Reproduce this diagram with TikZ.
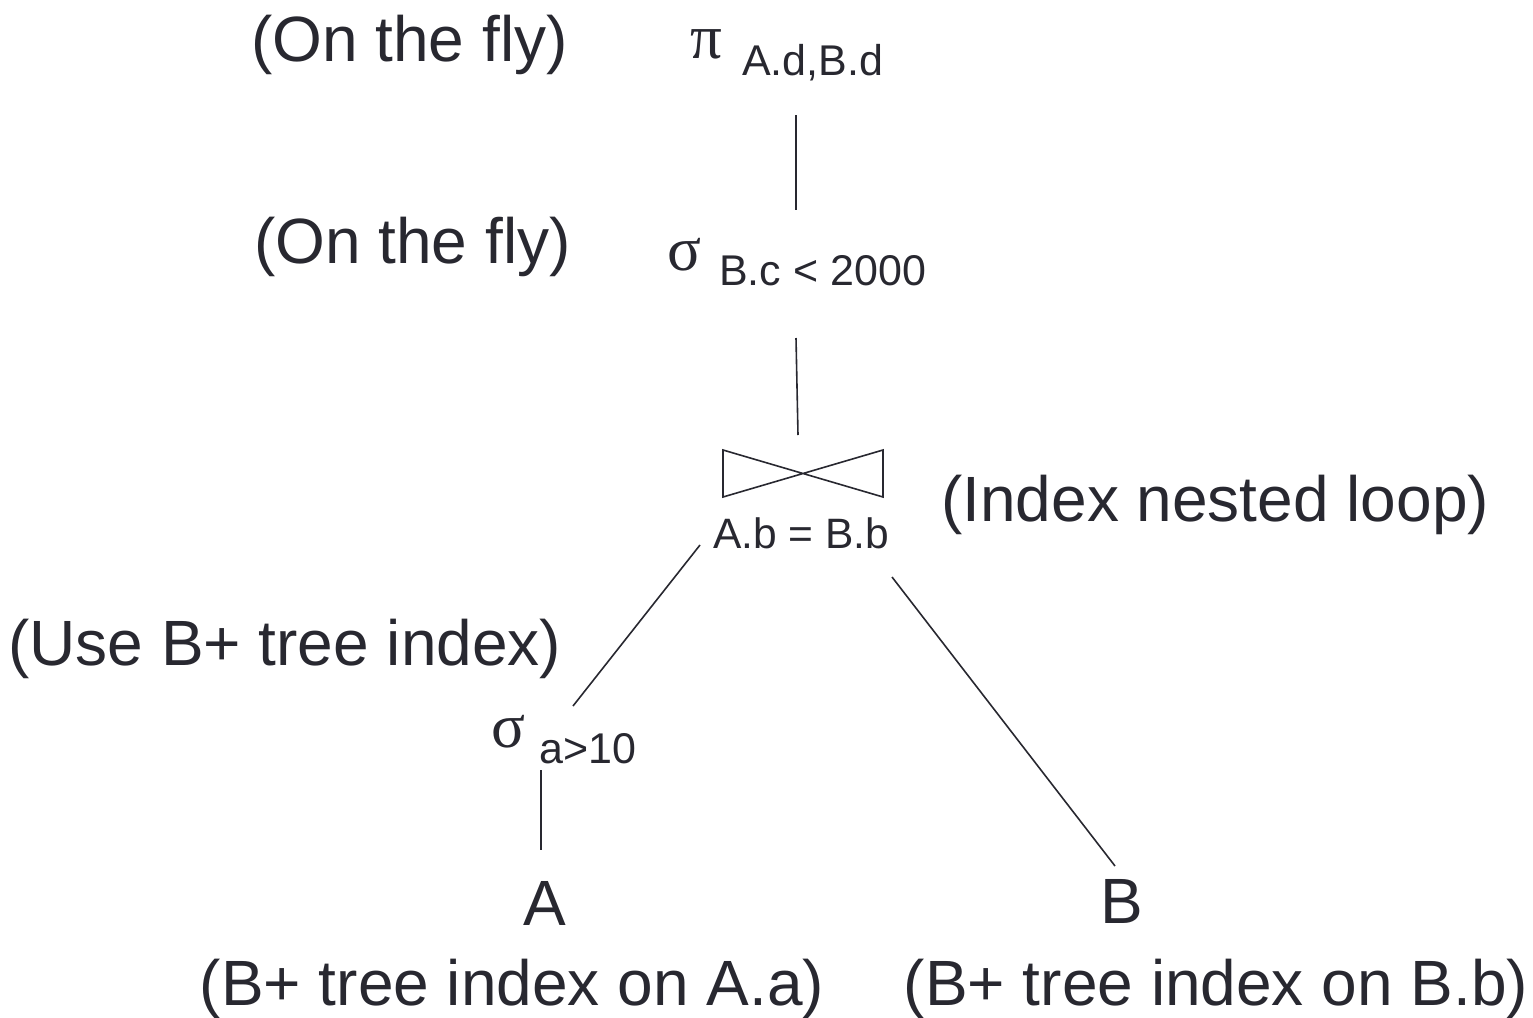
\documentclass[tikz,border=0pt]{standalone}
\usepackage{fontspec}
\setmainfont{Liberation Sans}
\newfontfamily\greekfont{Liberation Serif}
\usetikzlibrary{calc}
\definecolor{ink}{RGB}{40,40,48}
\begin{document}
\begin{tikzpicture}[x=1pt,y=-1pt,
  lbl/.style={anchor=base west,inner sep=0pt,text=ink,font=\fontsize{64}{72}\selectfont},
  lblc/.style={anchor=base,inner sep=0pt,text=ink,font=\fontsize{64}{72}\selectfont},
  greek/.style={anchor=base west,inner sep=0pt,text=ink,font=\greekfont\fontsize{63}{70}\selectfont},
  subs/.style={anchor=base west,inner sep=0pt,text=ink,font=\fontsize{43}{48}\selectfont},
  conn/.style={draw=ink,line width=1.6pt}]
\useasboundingbox (0,0) rectangle (1533,1017);

% annotations
\node[lbl] (fly1) at (251,61) {(On the fly)};
\node[lbl] (fly2) at (254,263) {(On the fly)};
\node[lbl] (inl) at (941,521) {(Index nested loop)};
\node[lbl] (useb) at (8,665) {(Use B+ tree index)};

% operators
\node[greek] (pi) at (690,58) {π};
\node[subs] (pisub) at (742,75) {A.d,B.d};
\node[greek] (sig1) at (667,270) {σ};
\node[subs] (sig1sub) at (719,285) {B.c < 2000};
\node[greek] (sig2) at (491,747) {σ};
\node[subs] (sig2sub) at (539,763) {a>10};

% join
\coordinate (join) at (803,473);
\draw[conn,line join=miter] ($(join)+(-80,-23)$) -- ($(join)+(-80,24)$) -- ($(join)+(80,-23)$) -- ($(join)+(80,24)$) -- cycle;
\node[anchor=base west,inner sep=0pt,text=ink,font=\fontsize{42.5}{48}\selectfont] (joinlbl) at (713,548) {A.b = B.b};

% leaves
\node[lblc] (Aleaf) at (545,925) {A};
\node[lblc] (Bleaf) at (1122,923) {B};
\node[lblc] (Alab) at (512,1005) {(B+ tree index on A.a)};
\node[lblc] (Blab) at (1216,1005) {(B+ tree index on B.b)};

% connectors
\draw[conn] ($(pi.base west)+(106,57)$) -- ($(sig1.base west)+(129,-60)$);
\draw[conn] ($(sig1.base west)+(129,68)$) -- ($(join)+(-5,-38)$);
\draw[conn] ($(joinlbl.base west)+(-13,-3)$) -- ($(sig2.base west)+(82,-41)$);
\draw[conn] ($(joinlbl.base west)+(179,29)$) -- ($(Bleaf.base)+(-7,-57)$);
\draw[conn] ($(sig2.base west)+(50,23)$) -- ($(Aleaf.base)+(-4,-75)$);
\end{tikzpicture}
\end{document}
